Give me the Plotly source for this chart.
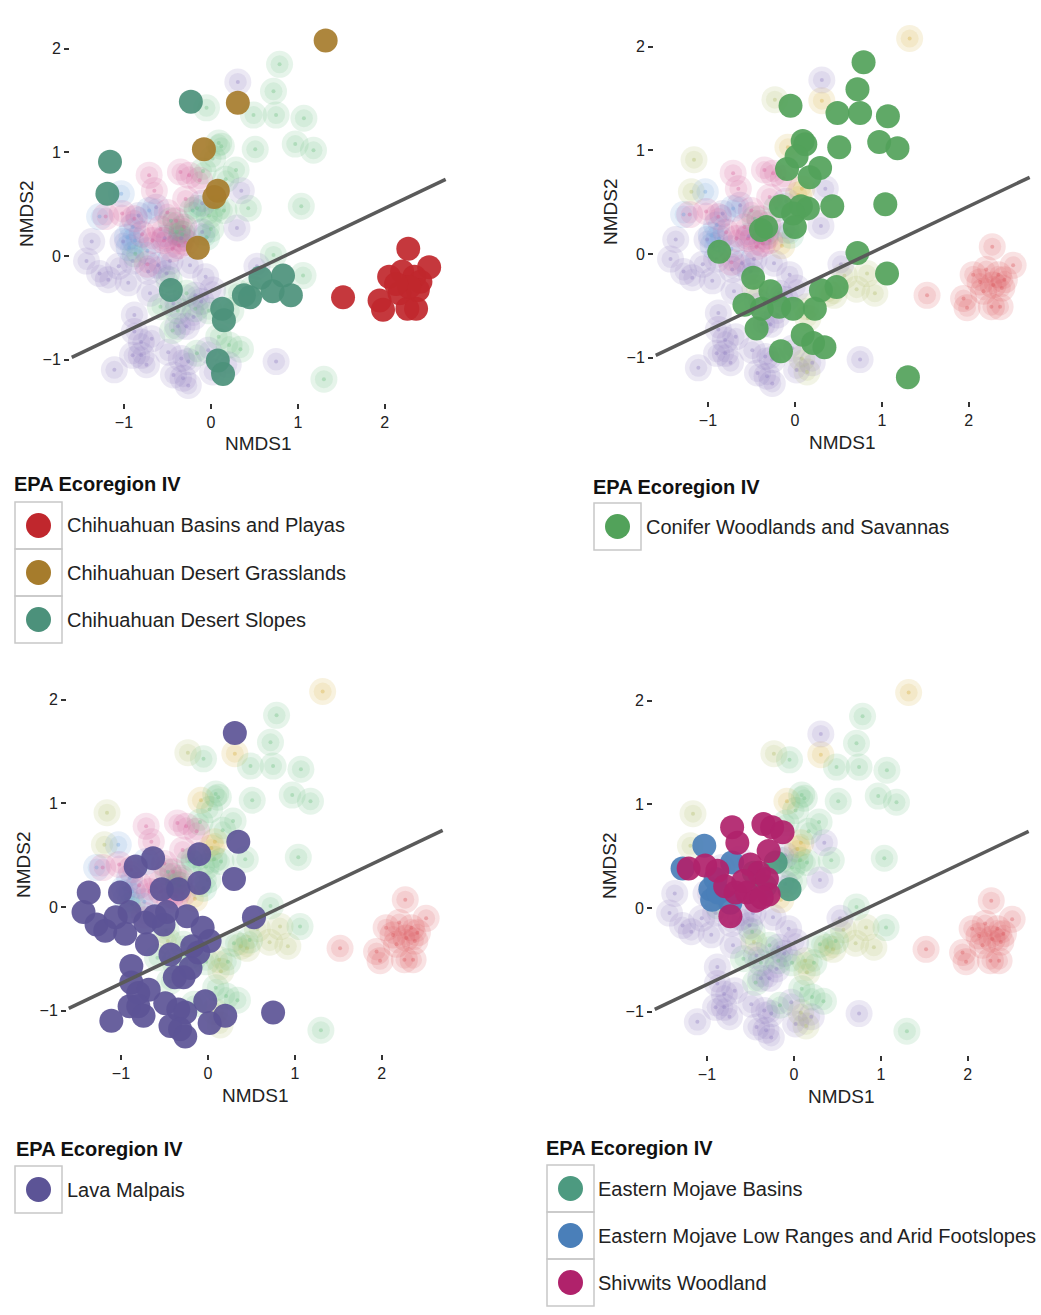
import plotly.graph_objects as go

W, H = 1041, 1315

# ---- NMDS site scores, grouped by EPA Level IV ecoregion ----
basins_x = [2.27, 2.51, 2.05, 2.20, 2.34, 2.41, 1.52, 1.94, 1.98, 2.17, 2.26, 2.36, 2.38, 2.28, 2.13]
basins_y = [0.07, -0.11, -0.20, -0.15, -0.20, -0.25, -0.40, -0.43, -0.52, -0.36, -0.51, -0.51, -0.33, -0.30, -0.27]

grass_x = [1.32, 0.31, -0.08, 0.08, 0.04, -0.15]
grass_y = [2.08, 1.48, 1.03, 0.63, 0.57, 0.08]

slopes_x = [-0.23, -1.16, -1.19, -0.46, 0.13, 0.15, 0.38, 0.45, 0.57, 0.71, 0.83, 0.92, 0.08, 0.14]
slopes_y = [1.49, 0.91, 0.60, -0.33, -0.51, -0.62, -0.38, -0.40, -0.21, -0.34, -0.19, -0.38, -1.01, -1.14]

conifer_x = [0.79, 0.72, -0.05, 0.49, 0.75, 1.07, 0.09, 0.12, 0.51, 0.97, 1.18, 0.02, -0.09, 0.29,
             0.17, -0.16, 0.07, 0.15, -0.02, 0.00, 0.43, 1.04, -0.33, -0.39, -0.87, 0.72, 1.06, -0.48,
             -0.28, -0.58, -0.38, -0.18, -0.02, 0.30, 0.48, 0.23, -0.44, -0.16, 0.09, 0.21, 0.34, 1.30]
conifer_y = [1.85, 1.59, 1.43, 1.36, 1.36, 1.33, 1.09, 1.06, 1.03, 1.08, 1.02, 0.94, 0.82, 0.83,
             0.74, 0.46, 0.46, 0.44, 0.39, 0.26, 0.46, 0.48, 0.26, 0.23, 0.02, 0.01, -0.19, -0.23,
             -0.36, -0.49, -0.53, -0.51, -0.53, -0.35, -0.32, -0.53, -0.72, -0.94, -0.78, -0.86, -0.90, -1.19]

lava_x = [0.31, 0.35, 0.30, -0.10, -0.10, -0.63, -0.83, -1.37, -1.01, -1.43, -1.28, -1.18, -1.06,
          -0.90, -0.95, -0.72, -0.70, -0.53, -0.47, -0.34, -0.51, -0.61, -0.24, -0.06, 0.02, -0.18,
          0.53, -0.43, -0.88, -0.11, -0.20, -0.38, -0.28, -0.88, -0.80, -0.68, -0.90, -0.80, -0.49,
          -0.34, -0.26, -0.03, 0.20, 0.02, -1.11, -0.43, -0.32, -0.26, 0.75, -0.74]
lava_y = [1.68, 0.63, 0.27, 0.51, 0.23, 0.47, 0.39, 0.14, 0.14, -0.05, -0.17, -0.23, -0.10,
          -0.05, -0.26, -0.15, -0.36, 0.17, -0.05, 0.17, -0.17, -0.09, -0.09, -0.20, -0.33, -0.38,
          -0.10, -0.46, -0.57, -0.44, -0.59, -0.68, -0.68, -0.73, -0.83, -0.80, -0.96, -0.96, -0.93,
          -0.99, -1.02, -0.91, -1.05, -1.12, -1.10, -1.15, -1.18, -1.25, -1.02, -1.05]

mojbasins_x = [-0.21, -0.05, -0.46, -0.33]
mojbasins_y = [0.44, 0.18, 0.34, 0.21]

lowranges_x = [-1.03, -1.28, -0.71, -0.90, -0.96, -0.94, -0.73, -0.87]
lowranges_y = [0.60, 0.38, 0.44, 0.28, 0.18, 0.08, 0.05, 0.15]

shivwits_x = [-0.71, -0.65, -0.35, -0.25, -0.13, -0.29, -1.21, -1.02, -0.88, -0.50, -0.40, -0.31,
              -0.79, -0.67, -0.54, -0.44, -0.29, -0.73, -0.58, -0.37]
shivwits_y = [0.78, 0.63, 0.81, 0.78, 0.73, 0.55, 0.38, 0.41, 0.36, 0.42, 0.34, 0.28,
              0.21, 0.15, 0.15, 0.07, 0.13, -0.08, 0.26, 0.10]

eco_names = ["Chihuahuan Basins and Playas", "Chihuahuan Desert Grasslands", "Chihuahuan Desert Slopes",
             "Conifer Woodlands and Savannas", "Lava Malpais", "Eastern Mojave Basins",
             "Eastern Mojave Low Ranges and Arid Footslopes", "Shivwits Woodland"]
eco_x = [basins_x, grass_x, slopes_x, conifer_x, lava_x, mojbasins_x, lowranges_x, shivwits_x]
eco_y = [basins_y, grass_y, slopes_y, conifer_y, lava_y, mojbasins_y, lowranges_y, shivwits_y]
eco_colors = ["#c0272d", "#a67c2c", "#4c917b", "#52a25a", "#5c5496", "#4d9a80", "#4a7fb9", "#b0226b"]
eco_faded = ["#d9545a", "#d6b040", "#b3bd6a", "#6cc080", "#8d7bbf", "#5cc08e", "#6fa3dd", "#d8609c"]

# ecoregions highlighted in each panel
panel_groups = [[0, 1, 2], [3], [4], [5, 6, 7]]

# fitted separating line
line_x = [-1.6, 2.7]
line_intercept = -0.34
line_slope = 0.40

x_ticks = [-1, 0, 1, 2]
y_ticks = [-1, 0, 1, 2]
x_range = [-1.62, 2.75]
y_range = [-1.42, 2.23]

# ---- page layout (pixel boxes) ----
panel_boxes = [(70, 25), (654, 23), (67, 676), (653, 677)]   # left, top
PW, PH = 380, 378
legend_pos = [  # title left, title y, box left, box top, text x
    (15, 484, 15, 502, 68),
    (594, 487, 594, 503, 647),
    (17, 1149, 15, 1166, 68),
    (547, 1148, 547, 1165, 599),
]
FONT = "Liberation Sans, Arial, Helvetica, sans-serif"
TEXT_PAD = 3  # annotation inner padding, compensated so text starts where intended


def px(x):
    return x / W


def py(y):
    return 1 - y / H


def rgba(hexc, a):
    h = hexc.lstrip("#")
    r, g, b = int(h[0:2], 16), int(h[2:4], 16), int(h[4:6], 16)
    return f"rgba({r},{g},{b},{a})"


fig = go.Figure()
shapes, annotations = [], []
layout_axes = {}

for p, groups in enumerate(panel_groups):
    ax = "" if p == 0 else str(p + 1)
    xa, ya = "x" + ax, "y" + ax
    left, top = panel_boxes[p]

    tickfont = dict(family=FONT, size=16, color="#222")
    layout_axes["xaxis" + ax] = dict(
        domain=[px(left), px(left + PW)], range=x_range, anchor=ya,
        tickvals=x_ticks, ticks="outside", ticklen=5, tickwidth=2, tickcolor="#333",
        showgrid=False, zeroline=False, showline=False, tickfont=tickfont)
    layout_axes["yaxis" + ax] = dict(
        domain=[py(top + PH), py(top)], range=y_range, anchor=xa,
        tickvals=y_ticks, ticks="outside", ticklen=5, tickwidth=2, tickcolor="#333",
        showgrid=False, zeroline=False, showline=False, tickfont=tickfont)

    # background: every other ecoregion, faded
    fx, fy, fc = [], [], []
    for g in range(len(eco_names)):
        if g in groups:
            continue
        fx += eco_x[g]
        fy += eco_y[g]
        fc += [eco_faded[g]] * len(eco_x[g])
    for size, alpha in [(27, 0.17), (18, 0.14), (4, 0.35)]:
        fig.add_trace(go.Scatter(
            x=fx, y=fy, mode="markers", xaxis=xa, yaxis=ya, showlegend=False, hoverinfo="skip",
            marker=dict(size=size, color=[rgba(c, alpha) for c in fc], line=dict(width=0))))

    # highlighted ecoregions
    for g in groups:
        fig.add_trace(go.Scatter(
            x=eco_x[g], y=eco_y[g], mode="markers", xaxis=xa, yaxis=ya, name=eco_names[g],
            showlegend=False,
            marker=dict(size=24, color=rgba(eco_colors[g], 0.92), line=dict(width=0))))

    # separating line
    fig.add_trace(go.Scatter(
        x=line_x, y=[line_intercept + line_slope * v for v in line_x], mode="lines",
        xaxis=xa, yaxis=ya, showlegend=False, hoverinfo="skip",
        line=dict(color="#5a5a5a", width=3.5)))

    # axis titles
    annotations.append(dict(
        text="NMDS1", x=px(left + PW / 2 - 2), y=py(top + PH + 41), xref="paper", yref="paper",
        showarrow=False, xanchor="center", yanchor="middle",
        font=dict(family=FONT, size=19, color="#222")))
    annotations.append(dict(
        text="NMDS2", x=px(left - 44), y=py(top + PH / 2), xref="paper", yref="paper",
        showarrow=False, xanchor="center", yanchor="middle", textangle=-90,
        font=dict(family=FONT, size=19, color="#222")))

    # legend
    tl, ty, bl, bt, tx = legend_pos[p]
    annotations.append(dict(
        text="<b>EPA Ecoregion IV</b>", x=px(tl - TEXT_PAD), y=py(ty), xref="paper", yref="paper",
        showarrow=False, xanchor="left", yanchor="middle",
        font=dict(family=FONT, size=20, color="#111")))
    key = 47
    for r, g in enumerate(groups):
        y0 = bt + r * key
        shapes.append(dict(type="rect", xref="paper", yref="paper",
                           x0=px(bl), x1=px(bl + key), y0=py(y0 + key), y1=py(y0),
                           line=dict(color="#c8c8c8", width=1.5), fillcolor="rgba(0,0,0,0)"))
        cx, cy, rad = bl + key / 2, y0 + key / 2, 12.5
        shapes.append(dict(type="circle", xref="paper", yref="paper",
                           x0=px(cx - rad), x1=px(cx + rad), y0=py(cy + rad), y1=py(cy - rad),
                           line=dict(width=0), fillcolor=eco_colors[g]))
        annotations.append(dict(
            text=eco_names[g], x=px(tx - TEXT_PAD), y=py(cy), xref="paper", yref="paper",
            showarrow=False, xanchor="left", yanchor="middle",
            font=dict(family=FONT, size=20, color="#222")))

fig.update_layout(
    width=W, height=H, margin=dict(l=0, r=0, t=0, b=0),
    paper_bgcolor="white", plot_bgcolor="white",
    shapes=shapes, annotations=annotations, **layout_axes)

fig.write_html("out.html")
